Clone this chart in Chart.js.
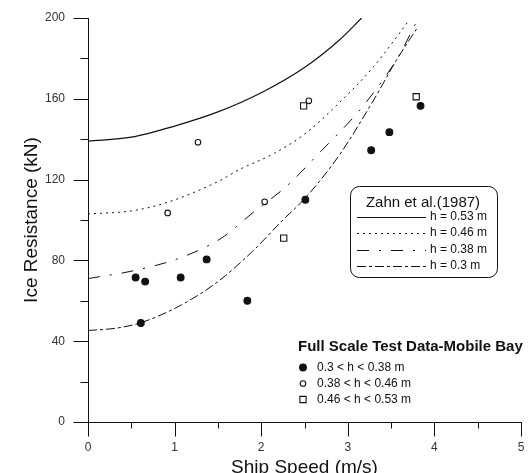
<!DOCTYPE html>
<html>
<head>
<meta charset="utf-8">
<script src="https://cdn.jsdelivr.net/npm/chart.js@4/dist/chart.umd.min.js"></script>
<style>
html,body{margin:0;padding:0;background:#fff;overflow:hidden;}
canvas{display:block;}
</style>
</head>
<body>
<canvas id="c" width="530" height="473"></canvas>
<script>
// ---- axis ticks ----
const speedTicks = [0, 1, 2, 3, 4, 5];
const speedMinorTicks = [0.5, 1.5, 2.5, 3.5, 4.5];
const resistanceTicks = [0, 40, 80, 120, 160, 200];
const resistanceMinorTicks = [20, 60, 100, 140, 180];

// ---- Zahn et al. (1987) model curves ----
const h053Speed = [0, 0.5, 1.0, 1.5, 2.0, 2.5, 2.9, 3.16];
const h053Res   = [139, 141, 146.5, 153.5, 163, 175.5, 189, 200];
const h046Speed = [0, 0.5, 0.9, 1.5, 1.75, 2.15, 2.5, 2.9, 3.3, 3.71];
const h046Res   = [103, 104.5, 108.5, 119, 125, 133, 142.5, 158, 176, 199];
const h038Speed = [0, 0.54, 1.08, 1.54, 1.9, 2.3, 2.7, 3.1, 3.4, 3.6, 3.78];
const h038Res   = [71, 75, 81.5, 91, 103.5, 117, 134.5, 152.5, 169, 182, 197];
const h03Speed  = [0, 0.3, 0.6, 1.08, 1.5, 1.9, 2.25, 2.5, 2.9, 3.3, 3.56, 3.8];
const h03Res    = [45.3, 46.3, 49, 58, 69.5, 84.5, 100, 110.5, 132, 159.5, 179, 195];

// ---- Full scale test data (Mobile Bay) ----
const thinSpeed = [0.55, 0.61, 0.66, 1.07, 1.37, 1.84, 2.51, 3.27, 3.48, 3.84];
const thinRes   = [71.5, 49, 69.5, 71.5, 80.5, 60, 110, 134.5, 143.5, 156.5];
const midSpeed  = [0.92, 1.27, 2.04, 2.55];
const midRes    = [103.5, 138.5, 109, 159];
const thickSpeed = [2.26, 2.49, 3.79];
const thickRes   = [91, 156.5, 161];

const modelTitle = 'Zahn et al.(1987)';
const dataTitle = 'Full Scale Test Data-Mobile Bay';

const FONT = '"Liberation Sans", Arial, Helvetica, sans-serif';
const pts = (xs, ys) => xs.map((v, i) => ({x: v, y: ys[i]}));

function curve(label, xs, ys, dash, width) {
  return {
    label, group: 'model', data: pts(xs, ys), showLine: true,
    borderColor: '#111', backgroundColor: '#111', borderWidth: width,
    borderDash: dash, pointRadius: 0, pointHoverRadius: 0,
    cubicInterpolationMode: 'monotone', fill: false, order: 2
  };
}
function markers(label, xs, ys, style, radius, fillColor) {
  return {
    label, group: 'data', data: pts(xs, ys), showLine: false,
    pointStyle: style, pointRadius: radius, pointHoverRadius: radius,
    pointBackgroundColor: fillColor, pointBorderColor: '#111',
    pointBorderWidth: 1.1, borderColor: '#111', backgroundColor: fillColor, order: 1
  };
}

const datasets = [
  curve('h = 0.53 m', h053Speed, h053Res, [], 1.2),
  curve('h = 0.46 m', h046Speed, h046Res, [2, 4], 1),
  curve('h = 0.38 m', h038Speed, h038Res, [12, 10, 2, 10], 1),
  curve('h = 0.3 m',  h03Speed,  h03Res,  [9, 3, 3, 3], 1),
  markers('0.3 < h < 0.38 m', thinSpeed, thinRes, 'circle', 3.4, '#111'),
  markers('0.38 < h < 0.46 m', midSpeed, midRes, 'circle', 2.8, '#fff'),
  markers('0.46 < h < 0.53 m', thickSpeed, thickRes, 'rect', 4.4, '#fff')
];

const overlay = {
  id: 'overlay',
  afterDraw(chart) {
    const ctx = chart.ctx;
    const xs = chart.scales.x, ys = chart.scales.y;
    ctx.save();
    ctx.strokeStyle = '#111';
    ctx.lineWidth = 1;
    ctx.setLineDash([]);
    // y tick marks
    const yAxisX = Math.round(xs.left) + 0.5;
    resistanceTicks.forEach(v => {
      const p = Math.round(ys.getPixelForValue(v)) + 0.5;
      ctx.beginPath(); ctx.moveTo(yAxisX - 15, p); ctx.lineTo(yAxisX, p); ctx.stroke();
    });
    resistanceMinorTicks.forEach(v => {
      const p = Math.round(ys.getPixelForValue(v)) + 0.5;
      ctx.beginPath(); ctx.moveTo(yAxisX - 8, p); ctx.lineTo(yAxisX, p); ctx.stroke();
    });
    // x tick marks
    const xAxisY = Math.round(ys.bottom) + 0.5;
    speedTicks.forEach(v => {
      const p = Math.round(xs.getPixelForValue(v)) + 0.5;
      ctx.beginPath(); ctx.moveTo(p, xAxisY); ctx.lineTo(p, xAxisY + 14); ctx.stroke();
    });
    speedMinorTicks.forEach(v => {
      const p = Math.round(xs.getPixelForValue(v)) + 0.5;
      ctx.beginPath(); ctx.moveTo(p, xAxisY); ctx.lineTo(p, xAxisY + 6); ctx.stroke();
    });

    // model legend box
    const bx = 350.5, by = 186.5, bw = 147, bh = 91;
    ctx.beginPath();
    ctx.roundRect(bx, by, bw, bh, 9);
    ctx.fillStyle = '#fff';
    ctx.fill();
    ctx.stroke();
    ctx.fillStyle = '#111';
    ctx.font = '15px ' + FONT;
    ctx.textAlign = 'center';
    ctx.textBaseline = 'middle';
    ctx.fillText(modelTitle, 423, 203);
    ctx.font = '12px ' + FONT;
    ctx.textAlign = 'left';
    const rowsY = [217, 233, 250, 266];
    const models = chart.data.datasets.filter(d => d.group === 'model');
    models.forEach((d, i) => {
      const yy = rowsY[i] + 0.5;
      ctx.strokeStyle = d.borderColor;
      ctx.lineWidth = d.borderWidth;
      ctx.setLineDash(d.borderDash || []);
      ctx.beginPath(); ctx.moveTo(357, yy); ctx.lineTo(426, yy); ctx.stroke();
      ctx.setLineDash([]);
      ctx.fillStyle = '#111';
      ctx.fillText(d.label, 430, rowsY[i]);
    });

    // data legend
    ctx.fillStyle = '#111';
    ctx.font = 'bold 15px ' + FONT;
    ctx.textAlign = 'left';
    ctx.fillText(dataTitle, 298, 347);
    ctx.font = '12px ' + FONT;
    const dRows = [367.5, 383.5, 399.5];
    const groups = chart.data.datasets.filter(d => d.group === 'data');
    groups.forEach((d, i) => {
      ctx.lineWidth = d.pointBorderWidth;
      ctx.fillStyle = d.pointBackgroundColor;
      ctx.strokeStyle = d.pointBorderColor;
      Chart.helpers.drawPoint(ctx, {
        pointStyle: d.pointStyle, radius: d.pointRadius, borderWidth: d.pointBorderWidth, rotation: 0
      }, 303, dRows[i]);
      ctx.fillStyle = '#111';
      ctx.fillText(d.label, 317, dRows[i]);
    });
    ctx.restore();
  }
};

new Chart(document.getElementById('c'), {
  type: 'scatter',
  data: { datasets },
  options: {
    responsive: false,
    animation: false,
    events: [],
    layout: { padding: { left: 0, right: 9, top: 18, bottom: 0 } },
    plugins: { legend: { display: false }, tooltip: { enabled: false }, title: { display: false } },
    scales: {
      x: {
        type: 'linear', min: 0, max: 5,
        afterBuildTicks: s => { s.ticks = speedTicks.map(v => ({ value: v })); },
        afterFit: s => { s.height = 51; s.paddingLeft = 0; s.paddingRight = 0; },
        grid: { display: false, drawTicks: false },
        border: { display: true, color: '#111', width: 1 },
        ticks: { padding: 18, color: '#333', font: { family: FONT, size: 12 }, maxRotation: 0, autoSkip: false },
        title: { display: true, text: 'Ship Speed (m/s)', color: '#111', font: { family: FONT, size: 19, lineHeight: 0.6 }, padding: { top: 0, bottom: 0 } }
      },
      y: {
        type: 'linear', min: 0, max: 200,
        afterBuildTicks: s => { s.ticks = resistanceTicks.map(v => ({ value: v })); },
        afterFit: s => { s.width = 88; s.paddingTop = 0; s.paddingBottom = 0; },
        grid: { display: false, drawTicks: false },
        border: { display: true, color: '#111', width: 1 },
        ticks: { padding: 23, color: '#333', font: { family: FONT, size: 12 }, autoSkip: false },
        title: { display: true, text: 'Ice Resistance (kN)', color: '#111', font: { family: FONT, size: 19, lineHeight: 1.2 }, padding: { top: 20, bottom: 0 } }
      }
    }
  },
  plugins: [overlay]
});
</script>
</body>
</html>
